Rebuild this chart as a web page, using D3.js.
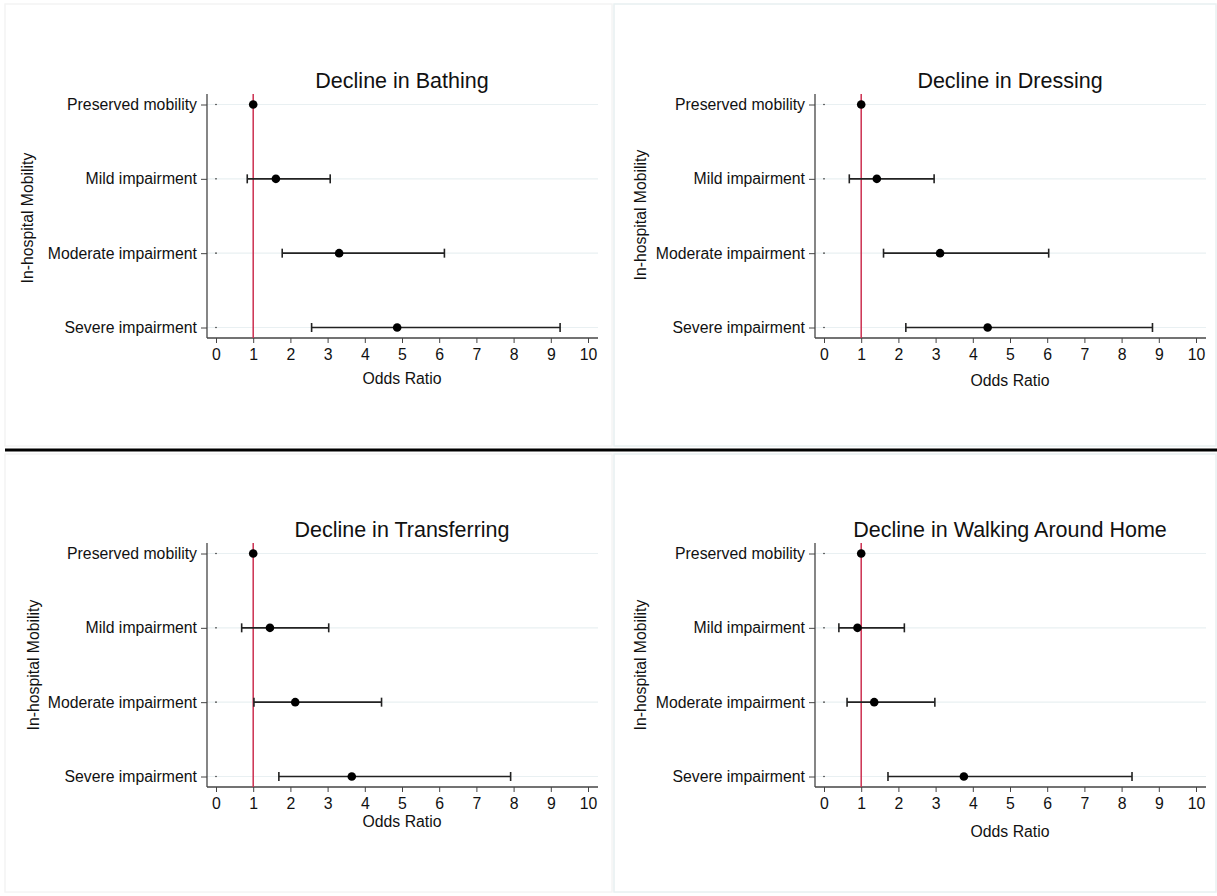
<!DOCTYPE html>
<html>
<head>
<meta charset="utf-8">
<script src="https://cdn.jsdelivr.net/npm/d3@7"></script>
<style>
  body { margin: 0; background: #fff; }
  text { font-family: "Liberation Sans", Arial, sans-serif; fill: #111; }
</style>
</head>
<body>
<div id="chart"></div>
<script>
const categories = ["Preserved mobility", "Mild impairment", "Moderate impairment", "Severe impairment"];
const xTicks = [0, 1, 2, 3, 4, 5, 6, 7, 8, 9, 10];

const bathingOR   = [1, 1.61, 3.31, 4.87];
const bathingLow  = [1, 0.84, 1.78, 2.57];
const bathingHigh = [1, 3.07, 6.14, 9.25];

const dressingOR   = [1, 1.42, 3.12, 4.40];
const dressingLow  = [1, 0.68, 1.60, 2.20];
const dressingHigh = [1, 2.96, 6.04, 8.83];

const transferOR   = [1, 1.45, 2.13, 3.65];
const transferLow  = [1, 0.69, 1.02, 1.69];
const transferHigh = [1, 3.03, 4.45, 7.92];

const walkingOR   = [1, 0.90, 1.35, 3.76];
const walkingLow  = [1, 0.40, 0.62, 1.72];
const walkingHigh = [1, 2.16, 2.98, 8.28];

const W = 1217, H = 896;

const svg = d3.select("#chart")
  .append("svg")
  .attr("width", W)
  .attr("height", H);

// panel frames
const frames = [
  { x: 5, y: 4, w: 607, h: 442, c: "#f4f4f4" },
  { x: 614, y: 4, w: 602, h: 442, c: "#e8f0f1" },
  { x: 5, y: 454, w: 607, h: 438, c: "#f4f4f4" },
  { x: 614, y: 454, w: 602, h: 438, c: "#e8f0f1" }
];
frames.forEach(f => {
  svg.append("rect")
    .attr("x", f.x).attr("y", f.y)
    .attr("width", f.w).attr("height", f.h)
    .attr("fill", "none")
    .attr("stroke", f.c)
    .attr("stroke-width", 1.5);
});

svg.append("line")
  .attr("x1", 5).attr("x2", W)
  .attr("y1", 450).attr("y2", 450)
  .attr("stroke", "#000")
  .attr("stroke-width", 3);

const panels = [
  { title: "Decline in Bathing", or: bathingOR, lo: bathingLow, hi: bathingHigh,
    axisX: 207, x0: 216, right: 598, top: 94, bottom: 338, titleY: 88, tickY: 360, xTitleY: 384, yTitleX: 33, yTitleC: 218 },
  { title: "Decline in Dressing", or: dressingOR, lo: dressingLow, hi: dressingHigh,
    axisX: 815, x0: 824, right: 1206, top: 94, bottom: 338, titleY: 88, tickY: 360, xTitleY: 386, yTitleX: 646, yTitleC: 215 },
  { title: "Decline in Transferring", or: transferOR, lo: transferLow, hi: transferHigh,
    axisX: 207, x0: 216, right: 598, top: 543, bottom: 787, titleY: 537, tickY: 809, xTitleY: 827, yTitleX: 39, yTitleC: 665 },
  { title: "Decline in Walking Around Home", or: walkingOR, lo: walkingLow, hi: walkingHigh,
    axisX: 815, x0: 824, right: 1206, top: 543, bottom: 787, titleY: 537, tickY: 809, xTitleY: 837, yTitleX: 646, yTitleC: 665 }
];

panels.forEach(p => {
  const g = svg.append("g");

  const x = d3.scaleLinear()
    .domain([0, 10])
    .range([p.x0, p.x0 + 372]);

  const y = d3.scalePoint()
    .domain(categories)
    .range([p.top + 10.5, p.bottom - 10.5]);

  // gridlines
  g.selectAll(".grid")
    .data(categories)
    .enter()
    .append("line")
    .attr("x1", p.axisX).attr("x2", p.right)
    .attr("y1", d => y(d)).attr("y2", d => y(d))
    .attr("stroke", "#e9f0f2")
    .attr("stroke-width", 1.2);

  // y axis
  const yAxis = g.append("g")
    .attr("transform", `translate(${p.axisX},0)`)
    .call(d3.axisLeft(y).tickSize(6).tickPadding(4));
  yAxis.select(".domain").remove();
  yAxis.selectAll(".tick line").attr("stroke", "#444");
  yAxis.selectAll(".tick text")
    .style("font-size", "15.8px")
    .style("font-family", "Liberation Sans, Arial, sans-serif")
    .attr("fill", "#111");

  // x axis
  const xAxis = g.append("g")
    .attr("transform", `translate(0,${p.bottom})`)
    .call(d3.axisBottom(x).tickValues(xTicks).tickSize(5).tickPadding(4).tickFormat(d3.format("d")));
  xAxis.select(".domain").remove();
  xAxis.selectAll(".tick line").attr("stroke", "#444");
  xAxis.selectAll(".tick text")
    .attr("y", null)
    .attr("dy", null)
    .attr("transform", `translate(0,${p.tickY - p.bottom})`)
    .style("font-size", "15.8px")
    .style("font-family", "Liberation Sans, Arial, sans-serif")
    .attr("fill", "#111");

  // axis lines
  g.append("line")
    .attr("x1", p.axisX).attr("x2", p.axisX)
    .attr("y1", p.top).attr("y2", p.bottom)
    .attr("stroke", "#444").attr("stroke-width", 1.3);
  g.append("line")
    .attr("x1", p.axisX).attr("x2", p.right)
    .attr("y1", p.bottom).attr("y2", p.bottom)
    .attr("stroke", "#444").attr("stroke-width", 1.3);

  // reference line at OR = 1
  g.append("line")
    .attr("x1", x(1)).attr("x2", x(1))
    .attr("y1", p.top).attr("y2", p.bottom)
    .attr("stroke", "#cc2f50")
    .attr("stroke-width", 1.5);

  const rows = categories.map((c, i) => ({ cat: c, or: p.or[i], lo: p.lo[i], hi: p.hi[i] }));

  // small marker at zero
  g.selectAll(".zero")
    .data(rows)
    .enter()
    .append("circle")
    .attr("cx", x(0))
    .attr("cy", d => y(d.cat))
    .attr("r", 0.8)
    .attr("fill", "#333");

  const ci = rows.filter(d => d.hi > d.lo);

  g.selectAll(".ci")
    .data(ci)
    .enter()
    .append("line")
    .attr("x1", d => x(d.lo)).attr("x2", d => x(d.hi))
    .attr("y1", d => y(d.cat)).attr("y2", d => y(d.cat))
    .attr("stroke", "#222").attr("stroke-width", 1.6);

  ["lo", "hi"].forEach(k => {
    g.selectAll(".cap-" + k)
      .data(ci)
      .enter()
      .append("line")
      .attr("x1", d => x(d[k])).attr("x2", d => x(d[k]))
      .attr("y1", d => y(d.cat) - 4.5).attr("y2", d => y(d.cat) + 4.5)
      .attr("stroke", "#222").attr("stroke-width", 1.6);
  });

  g.selectAll(".pt")
    .data(rows)
    .enter()
    .append("circle")
    .attr("cx", d => x(d.or))
    .attr("cy", d => y(d.cat))
    .attr("r", 4.3)
    .attr("fill", "#000");

  // titles
  g.append("text")
    .attr("x", x(5))
    .attr("y", p.titleY)
    .attr("text-anchor", "middle")
    .style("font-size", "21.5px")
    .text(p.title);

  g.append("text")
    .attr("x", x(5))
    .attr("y", p.xTitleY)
    .attr("text-anchor", "middle")
    .style("font-size", "15.8px")
    .text("Odds Ratio");

  g.append("text")
    .attr("transform", `translate(${p.yTitleX},${p.yTitleC}) rotate(-90)`)
    .attr("text-anchor", "middle")
    .style("font-size", "15.8px")
    .text("In-hospital Mobility");
});
</script>
</body>
</html>
